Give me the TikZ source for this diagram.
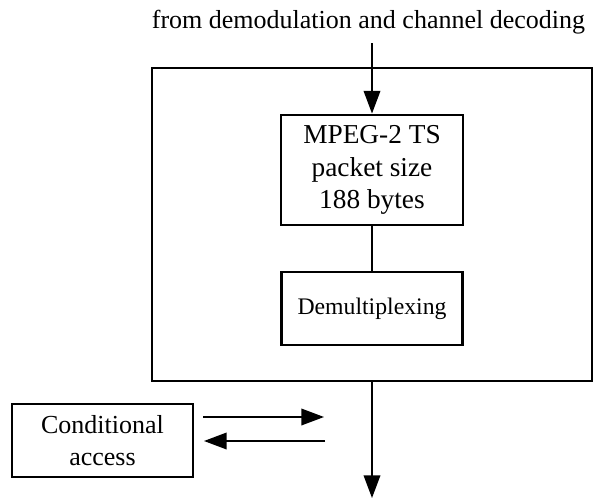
\documentclass[tikz,border=0pt]{standalone}
\usepackage{fontspec}
\setmainfont{Liberation Serif}
\usetikzlibrary{arrows.meta}
\tikzset{
  thickbox/.style={draw, line width=2.2pt, inner sep=0pt, align=center},
  thinbox/.style={draw, line width=1pt, inner sep=0pt, align=center},
  flow/.style={line width=1.1pt, -{Triangle[length=17pt,width=12.5pt]}},
  plain/.style={line width=1.1pt},
  maintext/.style={font=\fontsize{19.5}{24}\selectfont},
}
\begin{document}
\begin{tikzpicture}[x=0.75pt,y=-0.75pt]
\useasboundingbox (0,0) rectangle (597,500);
\node[maintext, anchor=base] (src) at (368.5,28) {from demodulation and channel decoding};
\coordinate (start) at (372,43);
\node[draw, line width=1.3pt, minimum width=440*0.75pt, minimum height=313*0.75pt, inner sep=0pt] (outer) at (372,224.5) {};
\node[thickbox, minimum width=182*0.75pt, minimum height=110*0.75pt, font=\fontsize{20.5}{24.4}\selectfont] (mpeg) at (372,170) {MPEG-2 TS\\packet size\\188 bytes};
\node[thickbox, minimum width=181*0.75pt, minimum height=73*0.75pt, font=\fontsize{17.8}{22}\selectfont] (demux) at (372,308.5) {Demultiplexing};
\node[thinbox, minimum width=181*0.75pt, minimum height=73*0.75pt, maintext] (ca) at (102.5,440.5) {Conditional\\access};
\coordinate (r1) at (203,417);
\coordinate (r2) at (324,417);
\coordinate (l1) at (325,441);
\coordinate (l2) at (204,441);
\coordinate (out) at (372,498);
\draw[flow] (start) -- (mpeg.north);
\draw[plain] (mpeg.south) -- (demux.north);
\draw[flow] (outer.south -| out) -- (out);
\draw[flow] (r1) -- (r2);
\draw[flow] (l1) -- (l2);
\end{tikzpicture}
\end{document}
